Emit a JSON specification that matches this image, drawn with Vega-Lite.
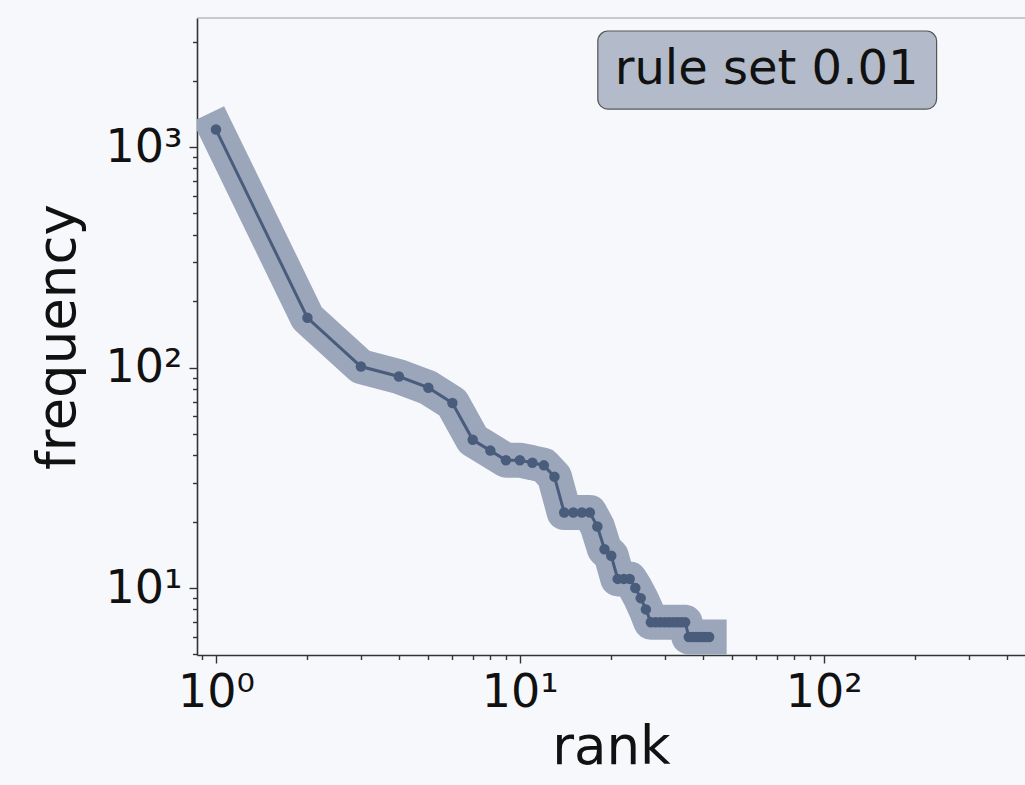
{
  "$schema": "https://vega.github.io/schema/vega-lite/v6.json",
  "width": 828,
  "height": 637,
  "autosize": "none",
  "padding": {"left": 197, "top": 18, "right": 0, "bottom": 130},
  "background": "#f7f8fb",
  "config": {
    "view": {"fill": "#f7f8fb", "stroke": null},
    "font": "DejaVu Sans",
    "axis": {
      "labelFont": "DejaVu Sans",
      "titleFont": "DejaVu Sans",
      "labelColor": "#111111",
      "titleColor": "#111111",
      "titleFontWeight": "normal",
      "labelFontSize": 46,
      "titleFontSize": 53,
      "domainColor": "#333333",
      "domainWidth": 1.6,
      "tickColor": "#333333",
      "tickWidth": 1.4,
      "grid": false
    }
  },
  "datasets": {
    "ranks": [
      {"rank": 1, "frequency": 1200},
      {"rank": 2, "frequency": 168},
      {"rank": 3, "frequency": 101},
      {"rank": 4, "frequency": 91},
      {"rank": 5, "frequency": 81},
      {"rank": 6, "frequency": 69},
      {"rank": 7, "frequency": 47},
      {"rank": 8, "frequency": 42},
      {"rank": 9, "frequency": 38},
      {"rank": 10, "frequency": 38},
      {"rank": 11, "frequency": 37},
      {"rank": 12, "frequency": 36},
      {"rank": 13, "frequency": 32},
      {"rank": 14, "frequency": 22},
      {"rank": 15, "frequency": 22},
      {"rank": 16, "frequency": 22},
      {"rank": 17, "frequency": 22},
      {"rank": 18, "frequency": 19},
      {"rank": 19, "frequency": 15},
      {"rank": 20, "frequency": 14},
      {"rank": 21, "frequency": 11},
      {"rank": 22, "frequency": 11},
      {"rank": 23, "frequency": 11},
      {"rank": 24, "frequency": 10},
      {"rank": 25, "frequency": 9},
      {"rank": 26, "frequency": 8},
      {"rank": 27, "frequency": 7},
      {"rank": 28, "frequency": 7},
      {"rank": 29, "frequency": 7},
      {"rank": 30, "frequency": 7},
      {"rank": 31, "frequency": 7},
      {"rank": 32, "frequency": 7},
      {"rank": 33, "frequency": 7},
      {"rank": 34, "frequency": 7},
      {"rank": 35, "frequency": 7},
      {"rank": 36, "frequency": 6},
      {"rank": 37, "frequency": 6},
      {"rank": 38, "frequency": 6},
      {"rank": 39, "frequency": 6},
      {"rank": 40, "frequency": 6},
      {"rank": 41, "frequency": 6},
      {"rank": 42, "frequency": 6}
    ],
    "note": [
      {"label": "rule set 0.01", "x": 18.06, "x2": 235.4, "y": 3357, "y2": 1486, "tx": 64.9, "ty": 2233}
    ]
  },
  "layer": [
    {
      "data": {"name": "ranks"},
      "mark": {"type": "line", "stroke": "#9ba6bb", "strokeWidth": 35, "strokeJoin": "round", "strokeCap": "square", "clip": true},
      "encoding": {
        "x": {
          "field": "rank",
          "type": "quantitative",
          "scale": {"type": "log", "domain": [0.866, 460], "nice": false},
          "axis": {
            "title": "rank",
            "titlePadding": 6,
            "labelPadding": 7,
            "values": [0.9, 1, 2, 3, 4, 5, 6, 7, 8, 9, 10, 20, 30, 40, 50, 60, 70, 80, 90, 100, 200, 300, 400],
            "labelExpr": "datum.value == 1 ? '10⁰' : datum.value == 10 ? '10¹' : datum.value == 100 ? '10²' : ''",
            "tickSize": {"condition": {"test": "datum.value == 1 || datum.value == 10 || datum.value == 100", "value": 8}, "value": 4.5},
            "labelFlush": false,
            "labelOverlap": false
          }
        },
        "y": {
          "field": "frequency",
          "type": "quantitative",
          "scale": {"type": "log", "domain": [4.97, 3846], "nice": false},
          "axis": {
            "title": "frequency",
            "titlePadding": 20,
            "labelPadding": 7,
            "values": [5, 6, 7, 8, 9, 10, 20, 30, 40, 50, 60, 70, 80, 90, 100, 200, 300, 400, 500, 600, 700, 800, 900, 1000, 2000, 3000],
            "labelExpr": "datum.value == 10 ? '10¹' : datum.value == 100 ? '10²' : datum.value == 1000 ? '10³' : ''",
            "tickSize": {"condition": {"test": "datum.value == 10 || datum.value == 100 || datum.value == 1000", "value": 8}, "value": 4.5},
            "labelFlush": false,
            "labelOverlap": false
          }
        }
      }
    },
    {
      "data": {"name": "ranks"},
      "mark": {"type": "line", "stroke": "#4a5c7c", "strokeWidth": 3, "clip": true},
      "encoding": {
        "x": {"field": "rank", "type": "quantitative"},
        "y": {"field": "frequency", "type": "quantitative"}
      }
    },
    {
      "data": {"name": "ranks"},
      "mark": {"type": "point", "filled": true, "color": "#4a5c7c", "opacity": 1, "size": 110, "clip": true},
      "encoding": {
        "x": {"field": "rank", "type": "quantitative"},
        "y": {"field": "frequency", "type": "quantitative"}
      }
    },
    {
      "data": {"name": "note"},
      "mark": {"type": "rect", "fill": "#b3bbca", "stroke": "#555555", "strokeWidth": 1.2, "cornerRadius": 10},
      "encoding": {
        "x": {"field": "x", "type": "quantitative"},
        "x2": {"field": "x2"},
        "y": {"field": "y", "type": "quantitative"},
        "y2": {"field": "y2"}
      }
    },
    {
      "data": {"name": "note"},
      "mark": {"type": "text", "fontSize": 48, "font": "DejaVu Sans", "color": "#111111", "align": "center", "baseline": "middle"},
      "encoding": {
        "x": {"field": "tx", "type": "quantitative"},
        "y": {"field": "ty", "type": "quantitative"},
        "text": {"field": "label"}
      }
    },
    {
      "data": {"values": [{}]},
      "mark": {"type": "rule", "stroke": "#9a9a9a", "strokeWidth": 1},
      "encoding": {
        "x": {"datum": 0.866},
        "x2": {"datum": 460},
        "y": {"datum": 3846}
      }
    }
  ]
}
